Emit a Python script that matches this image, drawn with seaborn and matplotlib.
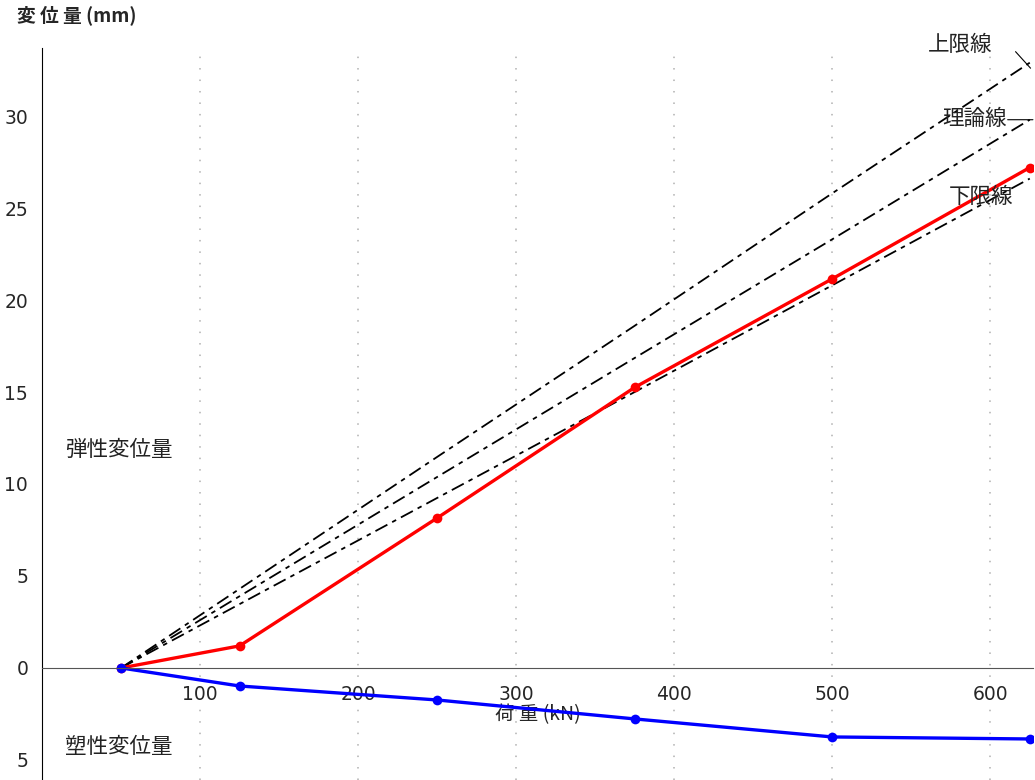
import numpy as np
import pandas as pd
import seaborn as sns
import matplotlib.pyplot as plt
from matplotlib.ticker import MultipleLocator, FixedLocator, FixedFormatter

# data
load_kn = [50, 125, 250, 375, 500, 625]
elastic_mm = [0, 1.2, 8.15, 15.25, 21.15, 27.2]
plastic_mm = [0, -0.98, -1.74, -2.77, -3.75, -3.86]
upper_mm = [0, 4.3, 11.47, 18.6, 25.8, 32.9]
theory_mm = [0, 3.9, 10.38, 16.85, 23.3, 29.8]
lower_mm = [0, 3.47, 9.24, 15.0, 20.8, 26.6]

y_ticks = [-5, 0, 5, 10, 15, 20, 25, 30]
y_labels = ['5', '0', '5', '10', '15', '20', '25', '30']
x_ticks = [100, 200, 300, 400, 500, 600]

sns.set_style('white')
plt.rcParams['font.family'] = ['Noto Sans CJK JP', 'DejaVu Sans']

df = pd.DataFrame({'load': load_kn, 'elastic': elastic_mm, 'plastic': plastic_mm,
                   'upper': upper_mm, 'theory': theory_mm, 'lower': lower_mm})

fig = plt.figure(figsize=(10.35, 7.8), dpi=100)
ax = fig.add_axes([0.0406, 0.0, 0.9574, 0.9385])

dashdot = (0, (7.5, 3, 2.5, 3))
for col in ['upper', 'theory', 'lower']:
    sns.lineplot(data=df, x='load', y=col, ax=ax, color='black', lw=1.3,
                 linestyle=dashdot)

sns.lineplot(data=df, x='load', y='elastic', ax=ax, color='#ff0000', lw=2.4,
             marker='o', markersize=7, markeredgewidth=0)
sns.lineplot(data=df, x='load', y='plastic', ax=ax, color='#0000ff', lw=2.4,
             marker='o', markersize=7, markeredgewidth=0)

ax.set_xlim(0, 627)
ax.set_ylim(-6.09, 33.7)

# spines: y axis at left, x axis through zero
ax.spines['top'].set_visible(False)
ax.spines['right'].set_visible(False)
ax.spines['bottom'].set_position(('data', 0))
ax.spines['bottom'].set_color('#555555')
ax.spines['left'].set_color('black')

ax.xaxis.set_major_locator(FixedLocator(x_ticks))
ax.xaxis.set_minor_locator(MultipleLocator(50))
ax.yaxis.set_major_locator(FixedLocator(y_ticks))
ax.yaxis.set_major_formatter(FixedFormatter(y_labels))
ax.tick_params(axis='x', which='major', direction='inout', length=8, width=1,
               color='#555555', labelsize=13.5, pad=8)
ax.tick_params(axis='x', which='minor', direction='inout', length=8, width=1,
               color='#555555')
ax.tick_params(axis='y', direction='inout', length=8, width=1, labelsize=13.5, pad=6)
for lab in ax.get_xticklabels() + ax.get_yticklabels():
    lab.set_family('DejaVu Sans')

ax.grid(axis='x', which='major', color='#b0b0b0', linestyle=(0, (1, 6.5)), lw=1.1)
ax.grid(axis='y', visible=False)

ax.set_xlabel('荷 重 (kN)', fontsize=14, labelpad=0)
ax.set_ylabel('')
ax.text(-0.025, 1.045, '変 位 量 (mm)', transform=ax.transAxes, fontsize=13.5,
        fontweight='bold', ha='left', va='center')

ax.text(14.5, 11.85, '弾性変位量', fontsize=15.5, color='#222222', va='center')
ax.text(14.5, -4.3, '塑性変位量', fontsize=15.5, color='#222222', va='center')

ax.text(560.5, 33.85, '上限線', fontsize=15.5, color='#222222', va='center')
ax.annotate('', xy=(625.5, 32.6), xytext=(616, 33.5),
            arrowprops=dict(arrowstyle='-', color='black', lw=0.8,
                            shrinkA=0, shrinkB=0))
ax.text(569.5, 29.85, '理論線', fontsize=15.5, color='#222222', va='center')
ax.annotate('', xy=(627, 29.8), xytext=(611, 29.8),
            arrowprops=dict(arrowstyle='-', color='black', lw=0.8,
                            shrinkA=0, shrinkB=0))
ax.text(573.5, 25.6, '下限線', fontsize=15.5, color='#222222', va='center')

plt.savefig('out.png', dpi=100)
